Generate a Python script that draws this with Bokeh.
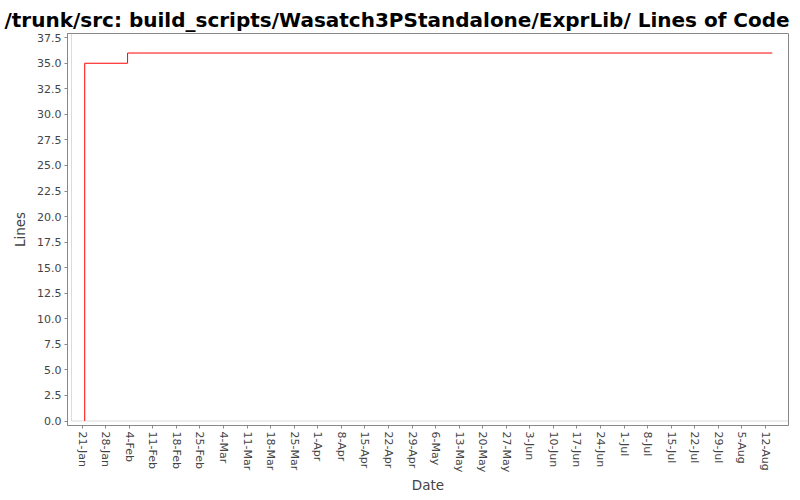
import pandas as pd
from bokeh.plotting import figure
from bokeh.models import Range1d, FixedTicker, DatetimeTickFormatter, PrintfTickFormatter, BoxAnnotation
from bokeh.embed import file_html
from bokeh.resources import INLINE

title_text = "/trunk/src: build_scripts/Wasatch3PStandalone/ExprLib/ Lines of Code"

# series (step line)
dates = ["2007-01-21 18:30", "2007-01-21 18:30", "2007-02-03 12:00", "2007-08-14 00:00"]
lines = [0, 35, 36, 36]

# weekly tick dates on x axis
tick_dates = ["2007-01-21", "2007-01-28", "2007-02-04", "2007-02-11", "2007-02-18",
              "2007-02-25", "2007-03-04", "2007-03-11", "2007-03-18", "2007-03-25",
              "2007-04-01", "2007-04-08", "2007-04-15", "2007-04-22", "2007-04-29",
              "2007-05-06", "2007-05-13", "2007-05-20", "2007-05-27", "2007-06-03",
              "2007-06-10", "2007-06-17", "2007-06-24", "2007-07-01", "2007-07-08",
              "2007-07-15", "2007-07-22", "2007-07-29", "2007-08-05", "2007-08-12"]
y_ticks = [0.0, 2.5, 5.0, 7.5, 10.0, 12.5, 15.0, 17.5, 20.0, 22.5, 25.0,
           27.5, 30.0, 32.5, 35.0, 37.5]

def ms(s):
    return pd.Timestamp(s).value / 1e6

x_vals = [ms(d) for d in dates]
x_ticks = [ms(d) for d in tick_dates]

x_start = ms("2007-01-16 15:40")
x_box_left = ms("2007-01-17 20:00")
x_end = ms("2007-08-18 20:00")
y_top = 37.91
y_bottom = -0.44

FONT = "DejaVu Sans"
GRAY = "#888888"

p = figure(width=800, height=500, x_axis_type="datetime",
           x_range=Range1d(x_start, x_end), y_range=Range1d(y_bottom, y_top),
           output_backend="svg", toolbar_location=None,
           min_border_left=67, min_border_right=12, min_border_top=33, min_border_bottom=75)

p.title.text = title_text
p.title.text_font = FONT
p.title.text_font_size = "20px"
p.title.text_font_style = "bold"
p.title.text_color = "#000000"
p.title.align = "left"
p.title.vertical_align = "top"
p.title.offset = -63
p.title.standoff = 0

p.xgrid.visible = False
p.ygrid.visible = False
p.outline_line_color = GRAY
p.outline_line_width = 1
p.background_fill_color = "white"
p.border_fill_color = "white"

p.add_layout(BoxAnnotation(left=x_box_left, right=x_end, bottom=0, top=y_top,
                           fill_color=None, line_color=GRAY, line_width=1))

p.step(x_vals, lines, mode="after", line_color="#ff0000", line_width=1)

for ax in (p.xaxis[0], p.yaxis[0]):
    ax.axis_line_color = GRAY
    ax.major_tick_line_color = GRAY
    ax.minor_tick_line_color = None
    ax.major_tick_in = 0
    ax.major_tick_out = 3
    ax.major_label_text_font = FONT
    ax.major_label_text_font_size = "11px"
    ax.major_label_text_color = "#444444"
    ax.axis_label_text_font = FONT
    ax.axis_label_text_font_size = "13.5px"
    ax.axis_label_text_font_style = "normal"
    ax.axis_label_text_color = "#444444"

p.xaxis.ticker = FixedTicker(ticks=x_ticks)
fmt = "%-d-%b"
p.xaxis.formatter = DatetimeTickFormatter(days=fmt, months=fmt, hours=fmt, years=fmt,
                                          hourmin=fmt, minutes=fmt, minsec=fmt,
                                          seconds=fmt, milliseconds=fmt, microseconds=fmt)
p.xaxis.major_label_orientation = "vertical"
p.xaxis.major_label_standoff = 3
p.xaxis.axis_label = "Date"
p.xaxis.axis_label_standoff = 2

p.yaxis.ticker = FixedTicker(ticks=y_ticks)
p.yaxis.formatter = PrintfTickFormatter(format="%.1f")
p.yaxis.major_label_standoff = 3
p.yaxis.axis_label = "Lines"
p.yaxis.axis_label_standoff = 6

open("out.html", "w").write(file_html(p, INLINE))
